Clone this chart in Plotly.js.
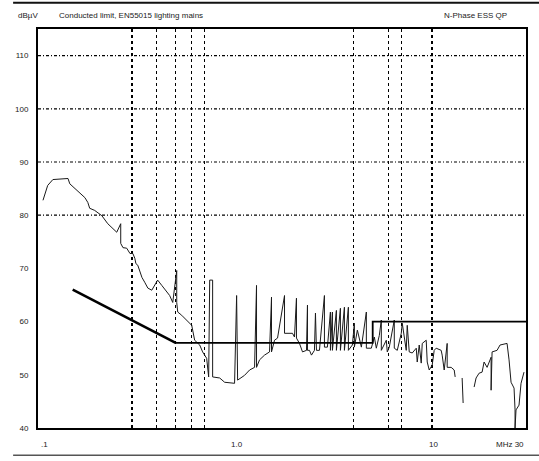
<!DOCTYPE html>
<html>
<head>
<meta charset="utf-8">
<script src="https://cdn.plot.ly/plotly-3.0.1.min.js"></script>
<style>html,body{margin:0;padding:0;background:#fff;}#chart{width:539px;height:461px;}</style>
</head>
<body>
<div id="chart"></div>
<script>
// Measured spectrum (MHz, dBµV); null = gap in the sweep
const freqMHz = [0.106,0.1085,0.112,0.119,0.142,0.145,0.154,0.163,0.173,0.179,0.183,0.194,0.211,0.226,0.240,0.251,0.263,0.263,
  0.270,0.282,0.293,0.303,0.310,0.314,0.321,0.337,0.348,0.361,0.378,0.391,0.405,0.425,0.450,0.466,0.483,0.506,0.506,
  0.512,0.536,0.556,0.603,0.624,0.662,0.685,0.718,0.735,0.744,0.770,0.770,0.836,0.886,0.995,1.019,1.031,1.118,1.186,
  1.257,1.286,1.286,1.332,1.412,1.497,1.532,1.532,1.587,1.644,1.784,1.784,1.826,1.958,2.004,2.051,2.051,2.125,2.201,
  2.306,2.333,2.333,2.388,2.444,2.531,2.561,2.591,2.683,2.844,2.844,2.945,3.050,3.050,3.122,3.122,3.271,3.271,3.428,
  3.428,3.592,3.592,3.763,3.763,3.942,4.036,4.036,4.179,4.379,4.642,4.642,4.920,5.096,5.216,5.402,5.530,5.530,5.861,
  5.929,6.070,6.435,6.435,6.664,6.982,7.063,7.400,7.487,7.664,7.937,8.318,8.414,8.613,8.817,8.921,9.345,9.456,9.679,
  10.02,10.26,10.50,11.13,11.26,11.53,11.94,11.94,12.51,12.96,13.11,null,14.22,14.39,null,16.36,16.74,17.34,17.96,
  18.38,19.04,19.95,19.95,20.18,21.39,22.15,24.04,24.61,25.19,26.09,26.40,26.40,26.70,27.65,28.31,29.31];
const levelDb = [82.8,84.1,85.6,86.7,86.9,85.9,85.0,84.1,83.3,82.4,81.3,80.9,79.9,78.4,77.5,76.8,78.4,74.7,
  73.9,73.8,72.8,72.8,71.9,70.9,70.6,68.3,67.4,66.3,65.9,66.8,67.8,66.8,65.5,64.9,63.6,69.6,63.6,
  61.8,61.2,60.6,59.3,56.5,55.6,54.3,53.1,49.6,67.8,67.8,49.6,49.4,48.6,48.4,64.9,49.0,49.9,50.9,
  51.4,66.8,51.4,52.8,53.7,54.3,64.6,54.3,56.5,56.9,64.9,57.8,57.8,57.8,57.1,64.4,56.9,55.9,54.3,
  54.6,63.1,54.6,54.6,53.7,54.6,61.6,54.6,54.6,64.9,55.2,55.2,61.8,54.6,61.8,54.6,62.1,54.6,62.5,
  54.6,62.7,54.6,62.7,54.6,55.6,59.7,55.2,58.4,55.2,61.8,55.0,55.0,57.1,55.0,57.4,60.3,54.6,56.5,
  54.3,55.2,60.3,55.0,54.6,57.8,59.7,54.6,59.3,54.3,54.1,55.0,52.4,55.6,52.2,55.9,56.5,52.4,50.9,
  51.8,54.6,55.0,54.6,53.7,50.9,55.9,51.4,51.4,50.9,49.6,null,49.4,44.7,null,47.7,49.4,50.3,50.5,
  52.4,51.4,53.3,47.1,54.3,54.6,55.6,55.9,52.8,48.6,47.5,43.4,40.0,43.4,44.3,48.4,50.5];

// EN55015 quasi-peak mains limit
const limitFreq = [0.15, 0.5, 5, 5, 30];
const limitDb = [66, 56, 56, 60, 60];

// Axis labels and grid positions
const yTickVals = [40, 50, 60, 70, 80, 90, 100, 110];
const yTickText = ['40', '50', '60', '70', '80', '90', '100', '110'];
const gridDb = [80, 90, 100, 110];
const markerFreq = [0.3, 0.4, 0.5, 0.6, 0.7, 4, 6, 7, 10];
const xLabelText = ['.1', '1.0', '10', 'MHz 30'];
const titleText = 'Conducted limit, EN55015 lighting mains';
const rightText = 'N-Phase ESS QP';
const unitText = 'dBµV';

const FONT = {family: 'Liberation Sans, Arial, sans-serif', size: 8, color: '#222'};

const traces = [
  {x: freqMHz, y: levelDb, type: 'scatter', mode: 'lines', connectgaps: false,
   line: {color: '#1a1a1a', width: 1}, hoverinfo: 'skip'},
  {x: limitFreq.slice(0, 2), y: limitDb.slice(0, 2), type: 'scatter', mode: 'lines',
   line: {color: '#000', width: 2.6}, hoverinfo: 'skip'},
  {x: limitFreq.slice(1), y: limitDb.slice(1), type: 'scatter', mode: 'lines',
   line: {color: '#000', width: 1.8, shape: 'linear'}, hoverinfo: 'skip'}
];

const shapes = gridDb.map(v => ({type: 'line', xref: 'paper', yref: 'y', x0: 0, x1: 1, y0: v, y1: v,
  line: {color: '#000', width: 1.2, dash: '3px,2px,1px,2px'}, layer: 'below'}));
shapes.push({type: 'line', xref: 'paper', yref: 'paper', x0: -0.051, x1: 1.03, y0: 1.066, y1: 1.066,
  line: {color: '#111', width: 2}});
shapes.push({type: 'line', xref: 'paper', yref: 'paper', x0: -0.051, x1: 1.03, y0: -0.068, y1: -0.068,
  line: {color: '#555', width: 1.5}});

const xLabelPos = [0.014, 0.408, 0.811, 1.0];
const xLabelAnchor = ['center', 'center', 'center', 'right'];
const annotations = xLabelText.map((t, i) => ({text: t, xref: 'paper', yref: 'paper', x: xLabelPos[i], y: -0.025,
  xanchor: xLabelAnchor[i], yanchor: 'top', showarrow: false, font: FONT}));
annotations.push({text: unitText, xref: 'paper', yref: 'paper', x: -0.045, y: 1.035, xanchor: 'left', yanchor: 'middle', showarrow: false, font: FONT});
annotations.push({text: titleText, xref: 'paper', yref: 'paper', x: 0.039, y: 1.035, xanchor: 'left', yanchor: 'middle', showarrow: false, font: FONT});
annotations.push({text: rightText, xref: 'paper', yref: 'paper', x: 0.828, y: 1.035, xanchor: 'left', yanchor: 'middle', showarrow: false, font: FONT});

const layout = {
  width: 539, height: 461,
  margin: {l: 38, r: 13, t: 29, b: 33, pad: 0},
  paper_bgcolor: '#fff', plot_bgcolor: '#fff',
  showlegend: false,
  font: FONT,
  xaxis: {type: 'log', range: [-1, Math.log10(30)], tickvals: markerFreq, ticktext: markerFreq.map(() => ''),
    showgrid: true, gridcolor: '#000', gridwidth: 1.4, griddash: '3px,3px', ticks: '', zeroline: false,
    showline: true, linecolor: '#000', linewidth: 2, mirror: true, fixedrange: true},
  yaxis: {range: [40, 115], tickvals: yTickVals, ticktext: yTickText, showgrid: false, ticks: '',
    ticklabelstandoff: 6, zeroline: false, showline: true, linecolor: '#000', linewidth: 2, mirror: true,
    tickfont: FONT, fixedrange: true},
  shapes: shapes,
  annotations: annotations
};

Plotly.newPlot('chart', traces, layout, {displayModeBar: false, staticPlot: true});
</script>
</body>
</html>
